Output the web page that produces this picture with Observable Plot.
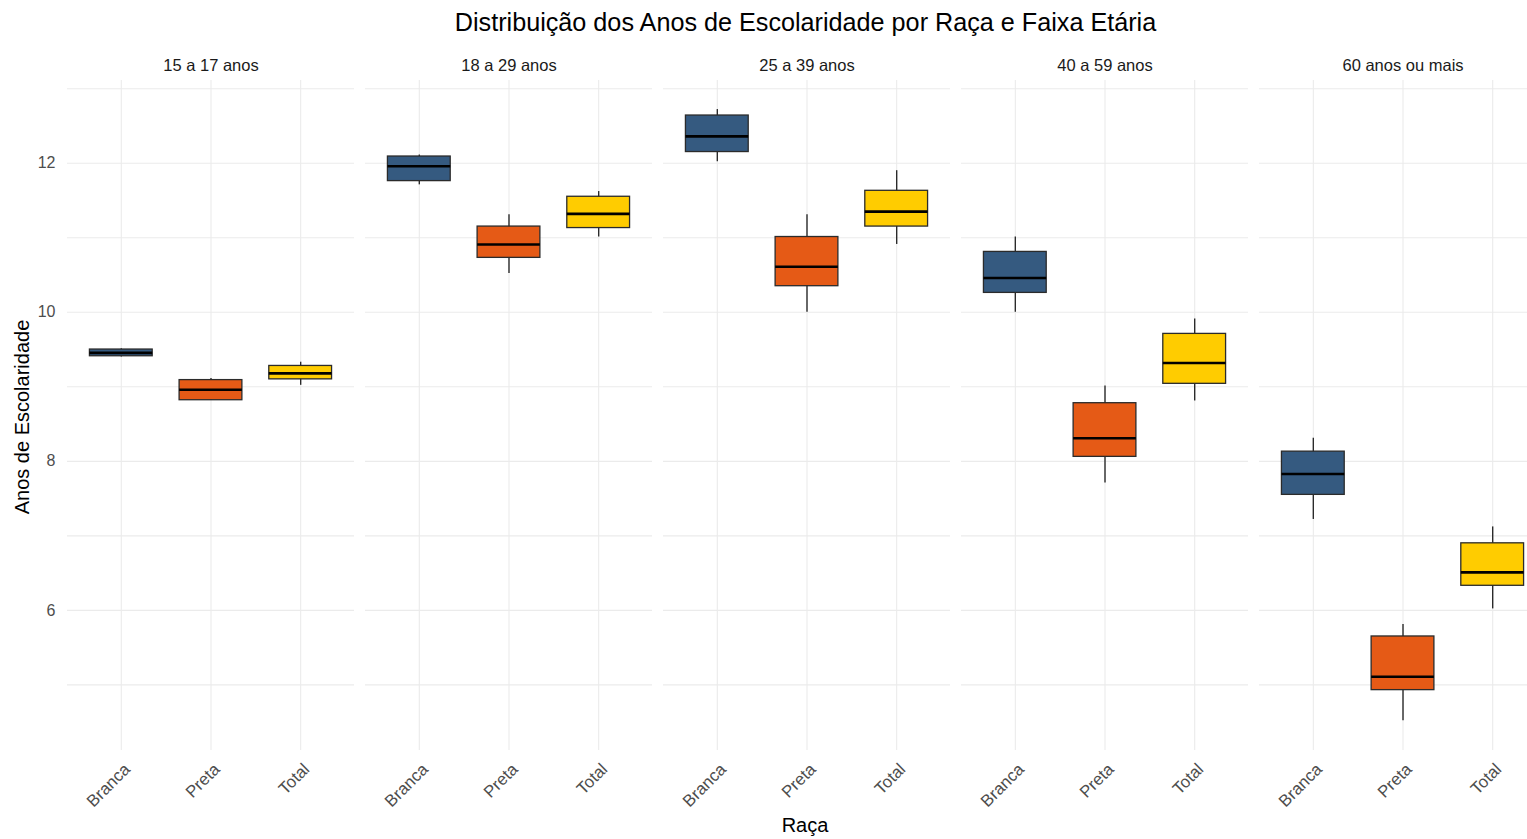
<!DOCTYPE html>
<html><head><meta charset="utf-8">
<script src="https://cdn.jsdelivr.net/npm/d3@7"></script>
<script src="https://cdn.jsdelivr.net/npm/@observablehq/plot@0.6"></script>
<style>
body{margin:0;background:#fff;font-family:"Liberation Sans",Arial,sans-serif;overflow:hidden;}
#wrap{position:relative;width:1527px;height:839px;overflow:hidden;background:#fff;}
#title{position:absolute;left:0;top:7px;width:1611px;text-align:center;font-size:25.2px;line-height:30px;color:#000;white-space:nowrap;}
#ylab{position:absolute;left:22px;top:417px;transform:translate(-50%,-50%) rotate(-90deg);font-size:20px;line-height:22px;color:#000;white-space:nowrap;}
#xlab{position:absolute;left:805px;top:813px;transform:translateX(-50%);font-size:20px;line-height:24px;color:#000;white-space:nowrap;}
#chart{position:absolute;left:0;top:45px;width:1548px;}
#chart svg{max-width:none !important;}
</style>
</head><body>
<div id="wrap">
  <div id="title">Distribuição dos Anos de Escolaridade por Raça e Faixa Etária</div>
  <div id="chart"></div>
  <div id="ylab">Anos de Escolaridade</div>
  <div id="xlab">Raça</div>
</div>
<script>
const faixas = ["15 a 17 anos", "18 a 29 anos", "25 a 39 anos", "40 a 59 anos", "60 anos ou mais"];
const racas = ["Branca", "Preta", "Total"];
const cores = ["#355A80", "#E55A16", "#FFCC00"];
const yTicks = [6, 8, 10, 12];
const yGrid = [5, 6, 7, 8, 9, 10, 11, 12, 13];
// values per faixa, each in order Branca, Preta, Total
const mins    = [9.40, 8.82, 9.02,   11.71, 10.52, 11.01,  12.02, 10.00, 10.91,  10.00, 7.71, 8.81,  7.22, 4.52, 6.02];
const q1s     = [9.41, 8.82, 9.10,   11.76, 10.73, 11.13,  12.15, 10.35, 11.15,  10.26, 8.06, 9.04,  7.55, 4.93, 6.33];
const medians = [9.455, 8.96, 9.18,  11.96, 10.91, 11.32,  12.36, 10.61, 11.35,  10.46, 8.31, 9.32,  7.83, 5.11, 6.51];
const q3s     = [9.50, 9.09, 9.28,   12.09, 11.15, 11.55,  12.64, 11.01, 11.63,  10.81, 8.78, 9.71,  8.13, 5.65, 6.90];
const maxs    = [9.51, 9.11, 9.33,   12.11, 11.31, 11.62,  12.72, 11.31, 11.90,  11.01, 9.01, 9.91,  8.31, 5.81, 7.12];

const data = [];
faixas.forEach((f, i) => racas.forEach((r, j) => {
  const k = i * 3 + j;
  data.push({faixa: f, raca: r, min: mins[k], q1: q1s[k], med: medians[k], q3: q3s[k], max: maxs[k]});
}));

const grid = "#ebebeb";
const chart = Plot.plot({
  width: 1548,
  height: 794,
  marginTop: 35,
  marginBottom: 89,
  marginLeft: 67,
  marginRight: 2,
  style: {fontFamily: '"Liberation Sans", Arial, sans-serif', background: "#fff", maxWidth: "none"},
  fx: {domain: faixas, paddingInner: 0.037, paddingOuter: 0, round: false, axis: null, label: null},
  x: {domain: racas, type: "band", paddingInner: 0.3, paddingOuter: 0.25, round: false, axis: null, label: null},
  y: {domain: [4.12, 13.11], axis: null, label: null},
  color: {domain: racas, range: cores},
  marks: [
    Plot.gridY({ticks: yGrid, stroke: grid, strokeOpacity: 1, strokeWidth: 1.1}),
    Plot.gridX({stroke: grid, strokeOpacity: 1, strokeWidth: 1.1}),
    Plot.ruleX(data, {fx: "faixa", x: "raca", y1: "min", y2: "max", stroke: "#2b2b2b", strokeWidth: 1.4}),
    Plot.barY(data, {fx: "faixa", x: "raca", y1: "q1", y2: "q3", fill: "raca", stroke: "#2b2b2b", strokeWidth: 1.3}),
    Plot.tickY(data, {fx: "faixa", x: "raca", y: "med", stroke: "#000", strokeWidth: 2.6}),
    Plot.axisY({ticks: yTicks, tickSize: 0, tickPadding: 12, fontSize: 16, fill: "#4d4d4d", label: null}),
    Plot.axisX({tickRotate: -45, tickSize: 0, tickPadding: 16, dx: 6, fontSize: 16.8, fill: "#4d4d4d", label: null}),
    Plot.axisFx({anchor: "top", tickSize: 0, tickPadding: 10, fontSize: 16.5, fill: "#1a1a1a", label: null})
  ]
});
document.getElementById("chart").appendChild(chart);
</script>
</body></html>
